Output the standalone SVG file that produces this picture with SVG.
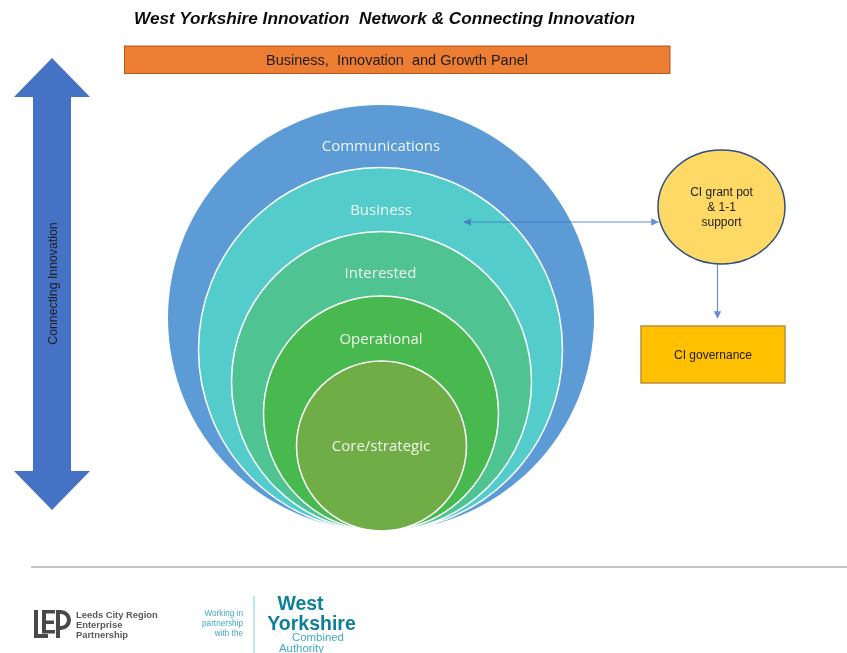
<svg xmlns="http://www.w3.org/2000/svg" width="847" height="653" viewBox="0 0 847 653">
<style>
text{font-family:"Liberation Sans",Arial,sans-serif;fill:#1c1c1c;text-anchor:middle;white-space:pre}
.r{stroke:#fff;stroke-width:1.500}
.c{font-family:"Open Sans","Noto Sans",sans-serif;font-size:15px;fill:#eef5ee}
.l{stroke:#4472c4;stroke-width:1.200;fill:none;opacity:.8}
.s{font-size:12px}
.g{fill:#5a5a5a;font-weight:bold;font-size:9.400px;text-anchor:start}
.t{fill:#3ea9c4;font-size:8.200px;text-anchor:end}
.w{font-size:19.500px;font-weight:bold;fill:#0f7f96}
.a{font-size:11.400px;fill:#3ea9c4}
</style>
<defs>
<marker id="a" viewBox="0 0 10 10" refX="9" refY="5" markerWidth="7.500" markerHeight="7.500" markerUnits="userSpaceOnUse" orient="auto-start-reverse"><path d="M0 0L10 5L0 10z" fill="#4472c4"/></marker>
<filter id="b" x="-5%" y="-5%" width="110%" height="110%"><feGaussianBlur stdDeviation="0.450"/></filter>
</defs>
<g filter="url(#b)">
<text x="384.500" y="23.500" font-size="17.200" font-weight="bold" font-style="italic" style="fill:#111">West Yorkshire Innovation  Network &amp; Connecting Innovation</text>
<g id="panel"><rect x="124.500" y="46" width="545.500" height="27.500" fill="#ed7d31" stroke="#ae5a21"/><text x="397" y="65" font-size="14.500">Business,  Innovation  and Growth Panel</text></g>
<g id="connecting-innovation"><path d="M52 58L90 97H71V471H90L52 510L14 471H33V97H14Z" fill="#4472c4"/><text transform="translate(56.500 283.500) rotate(-90)" font-size="12.300">Connecting Innovation</text></g>
<g id="communications"><circle cx="381" cy="318" r="213" fill="#5b9bd5"/><text class="c" x="381" y="151">Communications</text></g>
<g id="business"><circle class="r" cx="380.500" cy="349.500" r="182" fill="#54cccc"/><text class="c" x="381" y="214.500">Business</text></g>
<g id="interested"><circle class="r" cx="381.500" cy="381.500" r="150" fill="#50c492"/><text class="c" x="380.500" y="278">Interested</text></g>
<g id="operational"><circle class="r" cx="381" cy="413.500" r="117.500" fill="#47b94f"/><text class="c" x="381" y="343.500">Operational</text></g>
<g id="core"><circle class="r" cx="381.500" cy="446" r="85" fill="#70ad47"/><text class="c" x="381" y="451">Core/strategic</text></g>
<g id="grant-pot"><ellipse cx="721.500" cy="207" rx="63.500" ry="57" fill="#ffd966" stroke="#2f4f80" stroke-width="1.500"/><text class="s" x="721.500" y="196">CI grant pot</text><text class="s" x="721.500" y="211">&amp; 1-1</text><text class="s" x="721.500" y="226">support</text></g>
<g id="governance"><rect x="641" y="326" width="144" height="57" fill="#ffc000" stroke="#b8913a" stroke-width="1.500"/><text class="s" x="713" y="359">CI governance</text></g>
<g id="connectors"><path class="l" d="M464 222H658" marker-start="url(#a)" marker-end="url(#a)"/><path class="l" d="M717.500 264V318" marker-end="url(#a)"/></g>
<path d="M31 567H847" stroke="#b0b0b0" stroke-width="1.500"/>
<g id="lep-logo"><path d="M34 610h4v24h10v4H34zM42 610h13v3.500H46v7h8v3.500h-8v6h9v3.500H42zM56 610h5a10 10 0 0 1 0 20h-1v8h-4zM60 614v12h1a6 6 0 0 0 0-12z" fill="#4a4a4a" fill-rule="evenodd"/><text class="g" x="76" y="617.500">Leeds City Region</text><text class="g" x="76" y="627.500">Enterprise</text><text class="g" x="76" y="637.500">Partnership</text></g>
<g id="wy-logo"><text class="t" x="243" y="616">Working in</text><text class="t" x="243" y="626">partnership</text><text class="t" x="243" y="636">with the</text><path d="M254 596V653" stroke="#a9dfe8" stroke-width="1.500"/><text class="w" x="300.500" y="610">West</text><text class="w" x="311.500" y="630">Yorkshire</text><text class="a" x="318" y="641">Combined</text><text class="a" x="301.500" y="652">Authority</text></g>
</g>
</svg>
